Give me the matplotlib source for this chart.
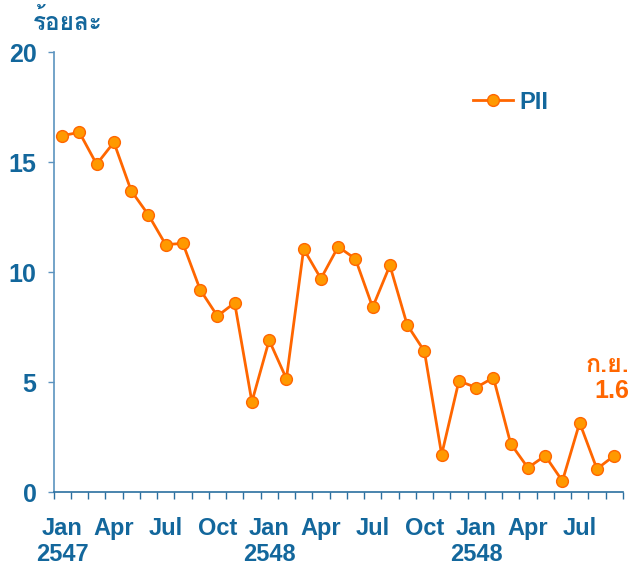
import matplotlib
matplotlib.use("Agg")
import matplotlib.pyplot as plt
from matplotlib import font_manager
from matplotlib.ft2font import FT2Font
from matplotlib.lines import Line2D

# monthly PII, Jan 2547 .. Sep 2549
pii = [16.2, 16.35, 14.9, 15.9, 13.7, 12.6, 11.25, 11.3, 9.2, 8.0, 8.6, 4.1,
       6.9, 5.15, 11.05, 9.7, 11.15, 10.6, 8.4, 10.3, 7.6, 6.4, 1.7, 5.05,
       4.75, 5.2, 2.2, 1.1, 1.65, 0.5, 3.15, 1.05, 1.65]
month_labels = ["Jan", "Apr", "Jul", "Oct"]
year_labels = ["2547", "2548", "2548"]
yticks = [0, 5, 10, 15, 20]

BLUE = "#13679c"
ORANGE = "#ff6600"
FILL = "#ff9900"


def find_thai_font():
    for f in font_manager.fontManager.ttflist:
        try:
            ft = FT2Font(f.fname)
            if ft.get_char_index(ord("ร")) and ft.get_char_index(ord("ย")):
                return f.name
        except Exception:
            pass
    return "DejaVu Sans"


thai = find_thai_font()
plt.rcParams['font.family'] = ['Liberation Sans', 'DejaVu Sans']

fig = plt.figure(figsize=(6.31, 5.66), dpi=100)
ax = fig.add_axes([0.0848, 0.1307, 0.9022, 0.7773])

x = list(range(len(pii)))
ax.plot(x, pii, color=ORANGE, lw=2, marker="o", ms=8.5,
        mfc=FILL, mec=ORANGE, mew=1)

ax.set_xlim(-0.5, len(pii) - 0.5)
ax.set_ylim(0, 20)

for s in ["top", "right"]:
    ax.spines[s].set_visible(False)
ax.spines["left"].set_color("#5b93bf")
ax.spines["bottom"].set_color("#2a6f9f")
ax.spines["left"].set_linewidth(1.2)
ax.spines["bottom"].set_linewidth(1.2)

ax.set_yticks(yticks)
ax.set_yticklabels([str(v) for v in yticks], fontsize=18, fontweight="bold", color=BLUE)
ax.tick_params(axis="y", length=4.3, width=1, color="#5b93bf", pad=8)

ax.set_xticks([i - 0.5 for i in range(len(pii) + 1)])
ax.set_xticklabels([])
ax.tick_params(axis="x", length=5, width=1, color="#2a6f9f")

for i in range(0, len(pii), 3):
    ax.text(i, -1.68, month_labels[(i // 3) % 4], ha="center", va="center",
            fontsize=17, fontweight="bold", color=BLUE)
for k, yr in enumerate(year_labels):
    ax.text(12 * k, -2.84, yr, ha="center", va="center",
            fontsize=17, fontweight="bold", color=BLUE)

fig.text(0.052, 0.962, "ร้อยละ", ha="left", va="center", fontsize=17.5,
         fontweight="bold", color=BLUE, family=[thai, 'DejaVu Sans'])

ax.text(32.9, 5.77, "ก.ย.", ha="right", va="center", fontsize=18,
        fontweight="bold", color=ORANGE, family=[thai, 'DejaVu Sans'])
ax.text(32.9, 4.6, "1.6", ha="right", va="center", fontsize=18,
        fontweight="bold", color=ORANGE)

handle = Line2D([], [], color=ORANGE, lw=2, marker="o", ms=8.5,
                mfc=FILL, mec=ORANGE, mew=1)
leg = ax.legend([handle], ["PII"], loc="center left", bbox_to_anchor=(0.70, 0.886),
                frameon=False, handlelength=1.7, handletextpad=0.25,
                prop={"size": 17, "weight": "bold"})
for t in leg.get_texts():
    t.set_color(BLUE)

fig.savefig("out.png", dpi=100)
